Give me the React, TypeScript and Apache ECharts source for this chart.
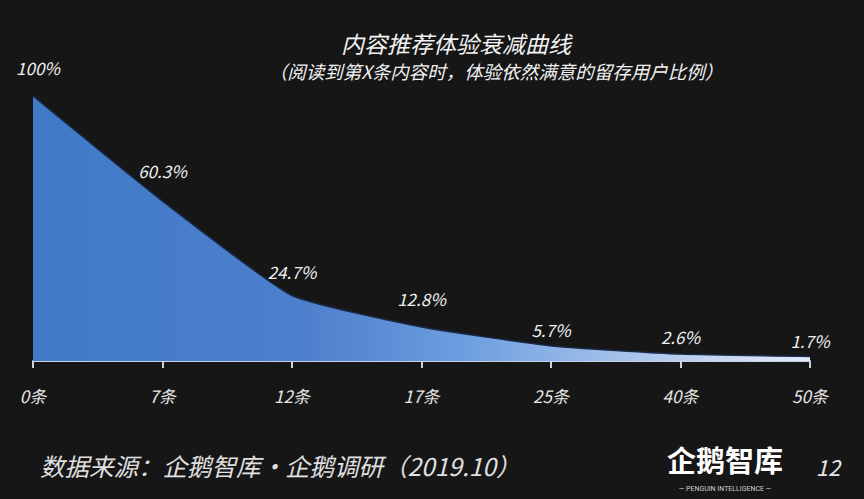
import React, { useEffect, useRef } from "react";
import * as echarts from "echarts";

const categories = ["0条", "7条", "12条", "17条", "25条", "40条", "50条"];
const values = [100, 60.3, 24.7, 12.8, 5.7, 2.6, 1.7];
const titleText = "内容推荐体验衰减曲线";
const subtitleText = "（阅读到第X条内容时，体验依然满意的留存用户比例）";
const sourceText = "数据来源：企鹅智库·企鹅调研（2019.10）";
const pageNumber = "12";

// label gaps above each point (styling only)
const labelGaps = [19, 21, 15, 19, 7, 8, 7];

export default function App() {
  const ref = useRef<HTMLDivElement>(null);
  useEffect(() => {
    if (!ref.current) return;
    const chart = echarts.init(ref.current, null, { renderer: "svg" });
    chart.setOption({
      animation: false,
      backgroundColor: "#161616",
      grid: { left: 33, right: 54, top: 96, bottom: 138 },
      xAxis: {
        type: "category",
        data: categories,
        boundaryGap: false,
        axisLine: { lineStyle: { color: "#c9d2e4", width: 2 } },
        axisTick: { show: true, length: 7, lineStyle: { color: "#c9d2e4", width: 2 } },
        axisLabel: {
          color: "#e6e6e6",
          fontSize: 17,
          fontStyle: "italic",
          fontFamily: "Noto Sans CJK SC",
          margin: 26,
        },
      },
      yAxis: {
        type: "value",
        min: 0,
        max: 100,
        show: false,
        splitLine: { show: false },
      },
      series: [
        {
          type: "line",
          data: values.map((v, i) => ({
            value: v,
            label: { distance: labelGaps[i], offset: i === 0 ? [5, 0] : [0, 0] },
          })),
          smooth: 0.15,
          symbol: "circle",
          symbolSize: 2,
          showSymbol: true,
          itemStyle: { color: "rgba(0,0,0,0)", borderWidth: 0 },
          lineStyle: { width: 1.5, color: "#1b2a48" },
          areaStyle: {
            opacity: 1,
            color: new echarts.graphic.LinearGradient(0, 0, 1, 0, [
              { offset: 0, color: "#3f7ac6" },
              { offset: 0.35, color: "#4d7fcc" },
              { offset: 0.55, color: "#6b9ddf" },
              { offset: 0.75, color: "#a3c0ea" },
              { offset: 1, color: "#e4ebf8" },
            ]),
          },
          label: {
            show: true,
            position: "top",
            color: "#f0f0f0",
            fontSize: 17,
            fontStyle: "italic",
            fontFamily: "Noto Sans CJK SC",
            formatter: (p: any) => p.value + "%",
          },
        },
      ],
      graphic: [
        {
          type: "text",
          x: 456,
          y: 43,
          style: {
            text: titleText,
            fill: "#f2f2f2",
            fontSize: 23,
            fontFamily: "Noto Sans CJK SC",
            fontStyle: "italic",
            textAlign: "center",
            textVerticalAlign: "middle",
          },
        },
        {
          type: "text",
          x: 496,
          y: 71,
          style: {
            text: subtitleText,
            fill: "#f2f2f2",
            fontSize: 18.5,
            fontFamily: "Noto Sans CJK SC",
            fontStyle: "italic",
            textAlign: "center",
            textVerticalAlign: "middle",
          },
        },
        {
          type: "text",
          x: 40,
          y: 465,
          style: {
            text: sourceText,
            fill: "#e0e0e0",
            fontSize: 24.5,
            fontFamily: "Noto Sans CJK SC",
            fontStyle: "italic",
            textAlign: "left",
            textVerticalAlign: "middle",
          },
        },
        {
          type: "text",
          x: 725,
          y: 459,
          style: {
            text: "企鹅智库",
            fill: "#ffffff",
            fontSize: 29,
            fontWeight: "bold",
            fontFamily: "Noto Sans CJK SC",
            textAlign: "center",
            textVerticalAlign: "middle",
          },
        },
        {
          type: "text",
          x: 725,
          y: 489,
          style: {
            text: "— PENGUIN INTELLIGENCE —",
            fill: "#cfcfcf",
            fontSize: 7,
            fontFamily: "Roboto",
            textAlign: "center",
            textVerticalAlign: "middle",
          },
        },
        {
          type: "text",
          x: 828,
          y: 466,
          style: {
            text: pageNumber,
            fill: "#e6e6e6",
            fontSize: 22,
            fontStyle: "italic",
            fontFamily: "Noto Sans CJK SC",
            textAlign: "center",
            textVerticalAlign: "middle",
          },
        },
      ],
    });
    return () => chart.dispose();
  }, []);
  return <div ref={ref} style={{ width: 864, height: 499, position: "fixed", left: 0, top: 0 }} />;
}
